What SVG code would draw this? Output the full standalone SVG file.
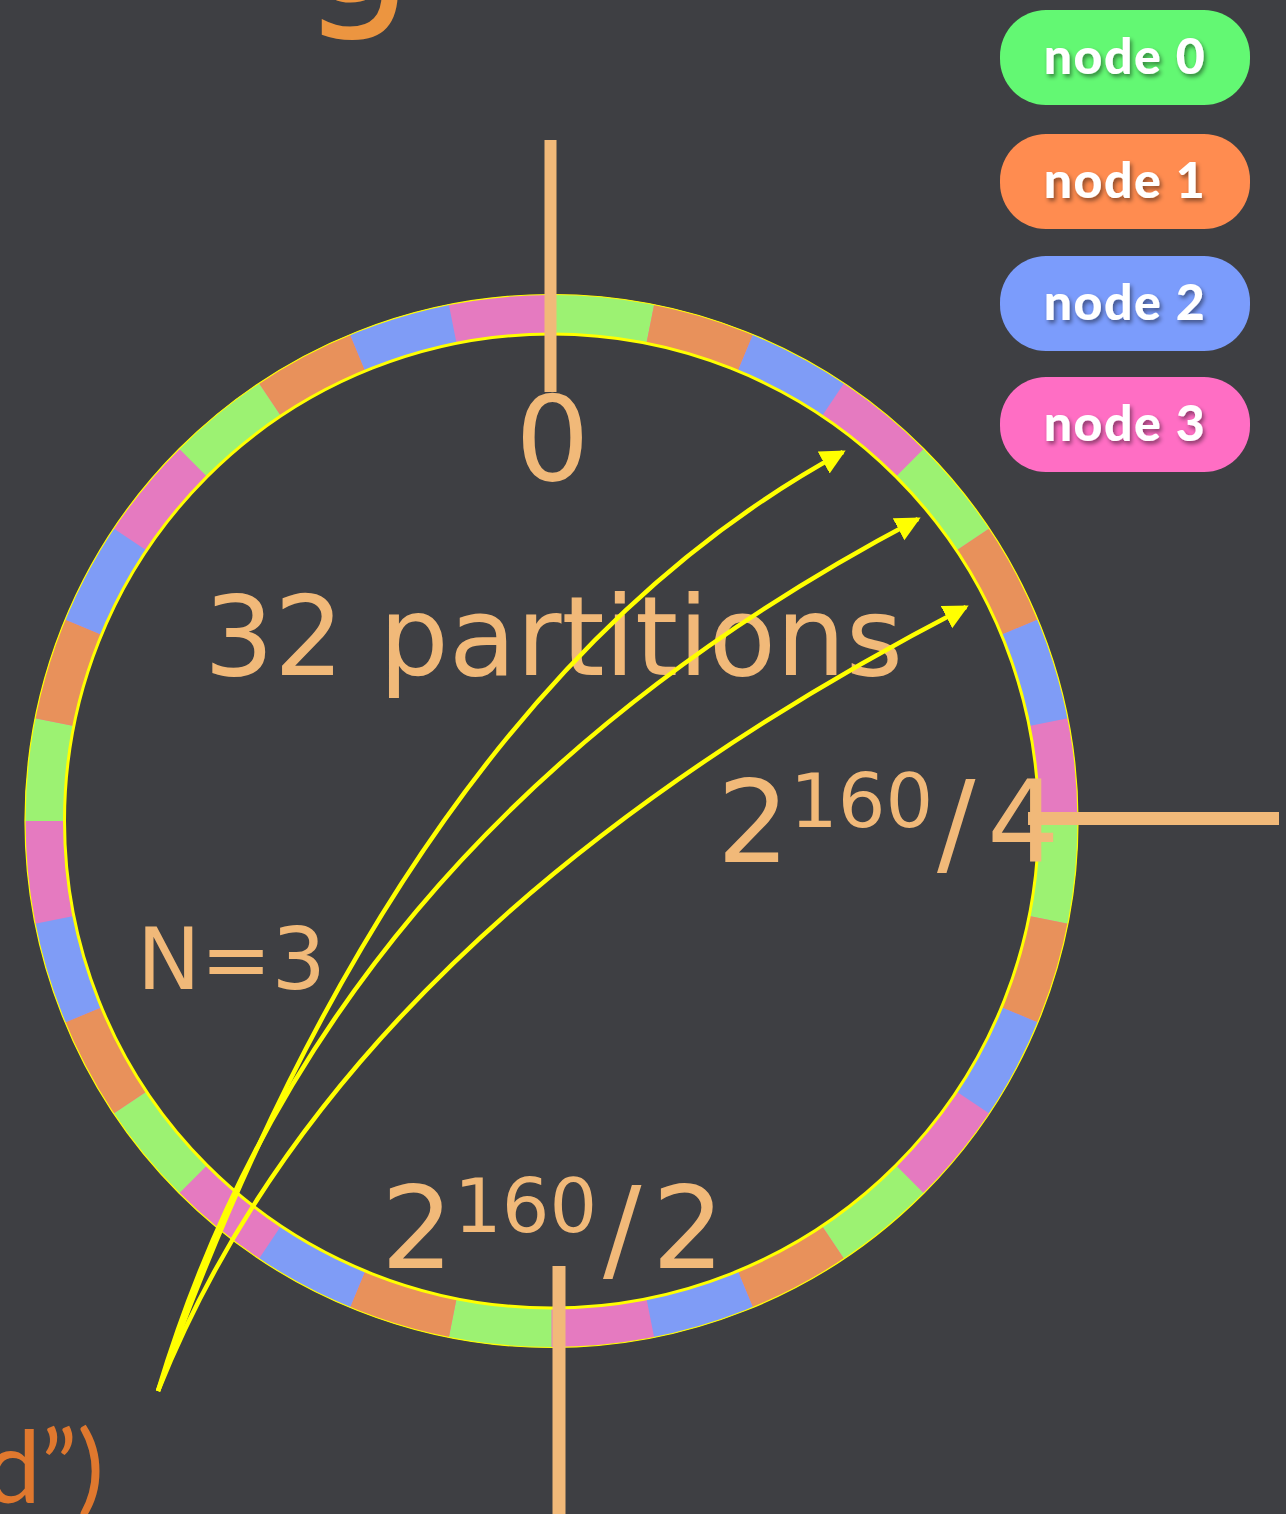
<svg xmlns="http://www.w3.org/2000/svg" width="1286" height="1514" viewBox="0 0 1286 1514">
<defs>
<style>
.lbl{font-family:"DejaVu Sans","Verdana",sans-serif;fill:#f1b979}
.tick{stroke:#f1b979;stroke-linecap:butt}
.seg{fill:none;stroke-width:39.5}
.nodebox text{font-family:"Lato","Open Sans",sans-serif;font-weight:900;font-size:50px;letter-spacing:1.5px;fill:#ffffff;text-anchor:middle}
.arc{fill:none;stroke:#ffff00;stroke-width:4.5}
</style>
<filter id="sh" x="-20%" y="-30%" width="140%" height="160%">
<feDropShadow dx="2" dy="3" stdDeviation="2" flood-color="#000000" flood-opacity="0.45"/>
</filter>
<marker id="ah" markerWidth="30" markerHeight="30" refX="22" refY="12.5" orient="auto" markerUnits="userSpaceOnUse">
<path d="M0,0 L25,12.5 L0,25 Z" fill="#ffff00"/>
</marker>
</defs>
<rect width="1286" height="1514" fill="#3e3f43"/>

<!-- title fragments (cut off by the frame, as in the reference) -->
<text x="300" y="2" font-family="DejaVu Sans, sans-serif" font-size="180" fill="#ec9540">g</text>
<text x="104" y="1503" font-family="Lato, Open Sans, sans-serif" font-size="100" fill="#e0782e" text-anchor="end">d”)</text>

<!-- ring -->
<g id="ring" transform="rotate(-90 551.5 821)">
<circle class="seg" cx="551.5" cy="821" r="506.75" stroke="#e57ac0"/>
<circle class="seg" cx="551.5" cy="821" r="506.75" stroke="#9cf272" pathLength="32" stroke-dasharray="1 3" stroke-dashoffset="0"/>
<circle class="seg" cx="551.5" cy="821" r="506.75" stroke="#e8915b" pathLength="32" stroke-dasharray="1 3" stroke-dashoffset="-1"/>
<circle class="seg" cx="551.5" cy="821" r="506.75" stroke="#7f9cf6" pathLength="32" stroke-dasharray="1 3" stroke-dashoffset="-2"/>
<circle cx="551.5" cy="821" r="526.5" fill="none" stroke="#ffff00" stroke-width="1.2"/>
<circle cx="551.5" cy="821" r="487" fill="none" stroke="#ffff00" stroke-width="3"/>
</g>

<!-- tick lines -->
<g id="ticks">
<line class="tick" x1="550.5" y1="140" x2="550.5" y2="392" stroke-width="12"/>
<line class="tick" x1="1028" y1="818.5" x2="1279" y2="818.5" stroke-width="13"/>
<line class="tick" x1="559" y1="1266" x2="559" y2="1514" stroke-width="13"/>
</g>

<!-- labels -->
<g id="labels">
<text class="lbl" x="552.5" y="480" font-size="117" text-anchor="middle">0</text>
<text class="lbl" x="204" y="675" font-size="110">32 partitions</text>
<text class="lbl" x="137" y="989" font-size="85">N=3</text>
<text class="lbl" font-size="114"><tspan x="717" y="862">2</tspan><tspan x="790" y="827" font-size="75">160</tspan><tspan x="937" y="862">/</tspan><tspan x="987" y="862">4</tspan></text>
<text class="lbl" font-size="114"><tspan x="381" y="1268">2</tspan><tspan x="454" y="1232" font-size="75">160</tspan><tspan x="603" y="1268">/</tspan><tspan x="652" y="1268">2</tspan></text>
</g>

<!-- connectors -->
<g id="connectors">
<path class="arc" d="M158,1391 Q412,686 843,452" marker-end="url(#ah)"/>
<path class="arc" d="M158,1391 C284,971 576,699 918,519" marker-end="url(#ah)"/>
<path class="arc" d="M158,1391 Q342,930 966,607" marker-end="url(#ah)"/>
</g>

<!-- legend nodes -->
<g id="node0" class="nodebox"><rect x="1000" y="10" width="250" height="95" rx="46" fill="#63f873"/><text x="1125" y="74" filter="url(#sh)">node 0</text></g>
<g id="node1" class="nodebox"><rect x="1000" y="134" width="250" height="95" rx="46" fill="#ff8c50"/><text x="1125" y="198" filter="url(#sh)">node 1</text></g>
<g id="node2" class="nodebox"><rect x="1000" y="256" width="250" height="95" rx="46" fill="#7b9cfc"/><text x="1125" y="320" filter="url(#sh)">node 2</text></g>
<g id="node3" class="nodebox"><rect x="1000" y="377" width="250" height="95" rx="46" fill="#ff6ec4"/><text x="1125" y="441" filter="url(#sh)">node 3</text></g>
</svg>
